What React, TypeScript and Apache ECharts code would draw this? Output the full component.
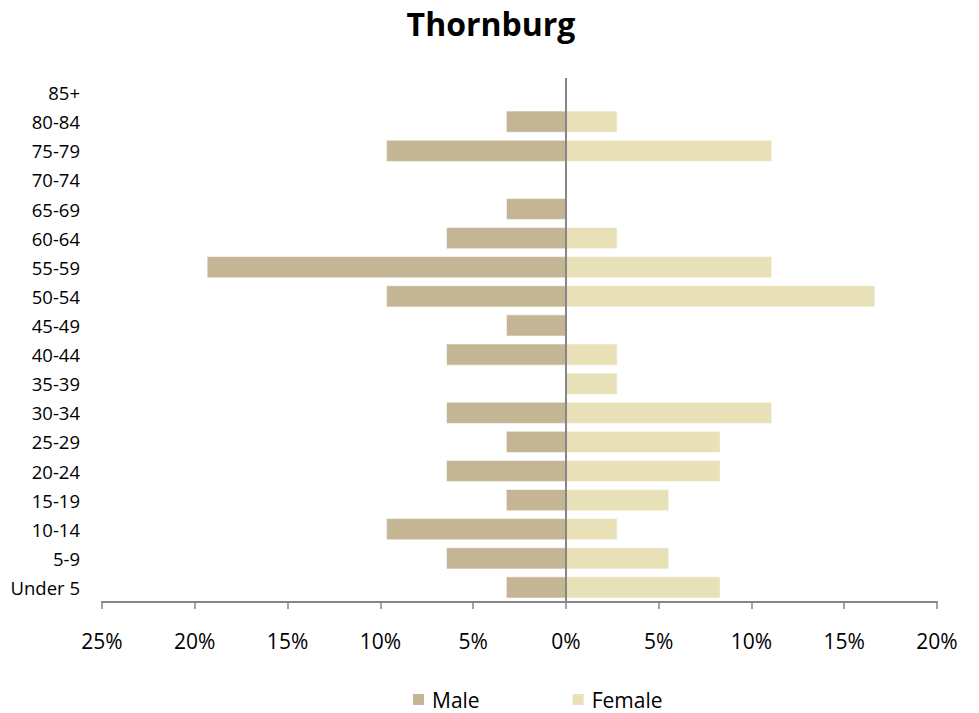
import React, { useEffect, useRef } from "react";
import * as echarts from "echarts";

const categories = ["Under 5", "5-9", "10-14", "15-19", "20-24", "25-29", "30-34", "35-39", "40-44", "45-49", "50-54", "55-59", "60-64", "65-69", "70-74", "75-79", "80-84", "85+"];
const maleShare = [0.0323, 0.0645, 0.0968, 0.0323, 0.0645, 0.0323, 0.0645, 0, 0.0645, 0.0323, 0.0968, 0.1935, 0.0645, 0.0323, 0, 0.0968, 0.0323, 0];
const femaleShare = [0.0833, 0.0556, 0.0278, 0.0556, 0.0833, 0.0833, 0.1111, 0.0278, 0.0278, 0, 0.1667, 0.1111, 0.0278, 0, 0, 0.1111, 0.0278, 0];
const xTicks = { min: -0.25, max: 0.2, interval: 0.05 };

const FONT = "'Open Sans', sans-serif";

export default function App() {
  const ref = useRef<HTMLDivElement>(null);
  useEffect(() => {
    if (!ref.current) return;
    const chart = echarts.init(ref.current, undefined, { renderer: "svg" });
    chart.setOption({
      animation: false,
      backgroundColor: "#ffffff",
      title: {
        text: "Thornburg",
        left: 486,
        textAlign: "center",
        top: 2,
        textStyle: { fontFamily: FONT, fontSize: 32, fontWeight: "bold", color: "#000" },
      },
      legend: {
        left: 406,
        top: 684,
        itemWidth: 13,
        itemHeight: 13,
        itemGap: 91,
        icon: "rect",
        textStyle: { fontFamily: FONT, fontSize: 21, lineHeight: 21, color: "#000", padding: [0, 0, 0, 2] },
        data: ["Male", "Female"],
      },
      grid: { left: 102, right: 42, top: 78, bottom: 111, containLabel: false },
      xAxis: {
        type: "value",
        min: xTicks.min,
        max: xTicks.max,
        interval: xTicks.interval,
        splitLine: { show: false },
        axisLine: { show: true, lineStyle: { color: "#868686", width: 2 } },
        axisTick: { show: true, length: 7, lineStyle: { color: "#868686", width: 1.5 } },
        axisLabel: {
          margin: 28,
          fontFamily: FONT,
          fontSize: 21,
          color: "#000",
          formatter: (v: number) => Math.round(Math.abs(v) * 100) + "%",
        },
      },
      yAxis: {
        type: "category",
        data: categories,
        axisLine: { show: false, onZero: false },
        axisTick: { show: false },
        axisLabel: { margin: 22, fontFamily: FONT, fontSize: 18.5, color: "#000" },
      },
      series: [
        {
          name: "Male",
          type: "bar",
          stack: "pop",
          barCategoryGap: "25%",
          data: maleShare.map((v) => -v),
          itemStyle: { color: "#C4B694", borderColor: "#ffffff", borderWidth: 0.6 },
          markLine: {
            silent: true,
            symbol: "none",
            label: { show: false },
            lineStyle: { color: "#868686", width: 2, type: "solid" },
            data: [{ xAxis: 0 }],
          },
        },
        {
          name: "Female",
          type: "bar",
          stack: "pop",
          barCategoryGap: "25%",
          data: femaleShare,
          itemStyle: { color: "#E8E0B6", borderColor: "#ffffff", borderWidth: 0.6 },
        },
      ],
    });
    return () => chart.dispose();
  }, []);
  return <div ref={ref} style={{ position: "fixed", left: 0, top: 0, width: 979, height: 713 }} />;
}
